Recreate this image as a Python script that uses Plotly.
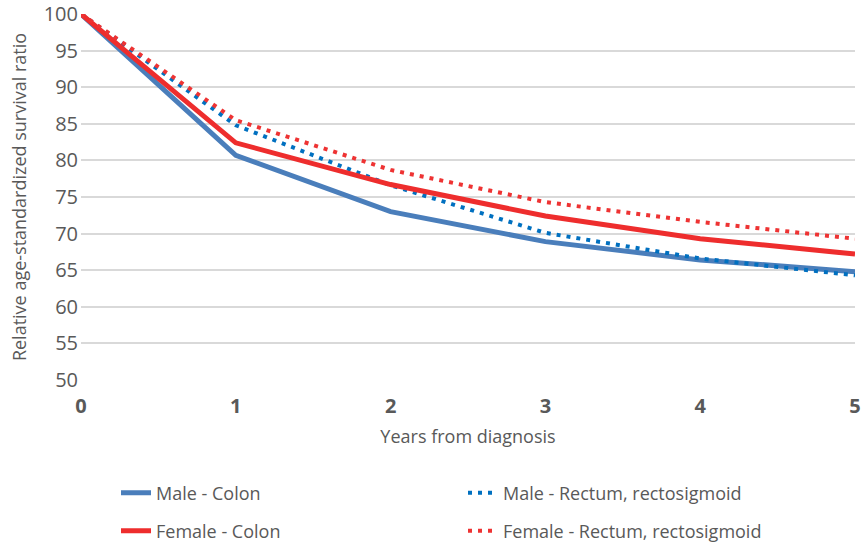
import plotly.graph_objects as go

years = [0, 1, 2, 3, 4, 5]
male_colon = [100, 80.7, 73.0, 68.9, 66.4, 64.8]
female_colon = [100, 82.4, 76.7, 72.4, 69.3, 67.2]
male_rectum = [100, 84.8, 76.6, 70.1, 66.6, 64.3]
female_rectum = [100, 85.5, 78.7, 74.3, 71.6, 69.3]

names = ["Male - Colon", "Male - Rectum, rectosigmoid",
         "Female - Colon", "Female - Rectum, rectosigmoid"]

font_fam = "Open Sans"
gray = "#595959"

fig = go.Figure()
fig.add_trace(go.Scatter(x=years, y=male_colon, mode="lines", name=names[0],
                         line=dict(color="#4A7EBB", width=5), legend="legend", cliponaxis=False))
fig.add_trace(go.Scatter(x=years, y=male_rectum, mode="lines", name=names[1],
                         line=dict(color="#0070C0", width=4, dash="4px,6px"), legend="legend", cliponaxis=False))
fig.add_trace(go.Scatter(x=years, y=female_colon, mode="lines", name=names[2],
                         line=dict(color="#EE2D2D", width=5), legend="legend2", cliponaxis=False))
fig.add_trace(go.Scatter(x=years, y=female_rectum, mode="lines", name=names[3],
                         line=dict(color="#EE3333", width=4, dash="4px,6px"), legend="legend2", cliponaxis=False))

leg_common = dict(orientation="h", xref="container", yref="container", xanchor="left", yanchor="middle",
                  entrywidth=302, entrywidthmode="pixels", bgcolor="rgba(0,0,0,0)",
                  font=dict(family=font_fam, size=18, color=gray), traceorder="normal")

fig.update_layout(
    width=861, height=543,
    margin=dict(l=81, r=6, t=14, b=163, autoexpand=False),
    paper_bgcolor="white", plot_bgcolor="white",
    font=dict(family=font_fam, color=gray),
    showlegend=True,
    legend=dict(x=116/861, y=1 - 493/543, **leg_common),
    legend2=dict(x=116/861, y=1 - 531/543, **leg_common),
    xaxis=dict(range=[0, 5], tickvals=years, ticktext=[str(v) for v in years],
               showgrid=False, zeroline=False, showline=False,
               tickfont=dict(size=20, color=gray, family=font_fam, weight="bold"),
               ticks="", ticklabelstandoff=12,
               title=dict(text="Years from diagnosis", font=dict(size=18, color=gray), standoff=12)),
    yaxis=dict(range=[50, 100], tickvals=list(range(50, 101, 5)),
               showgrid=True, gridcolor="#D9D9D9", gridwidth=1.5, zeroline=False, showline=False,
               tickfont=dict(size=20, color=gray), ticks="", ticklabelstandoff=2,
               title=dict(text="Relative age-standardized survival ratio", font=dict(size=18, color=gray), standoff=12)),
)

fig.write_html("out.html", config={"displayModeBar": False},
               post_script="document.body.style.margin='0';document.body.style.overflow='hidden';")
